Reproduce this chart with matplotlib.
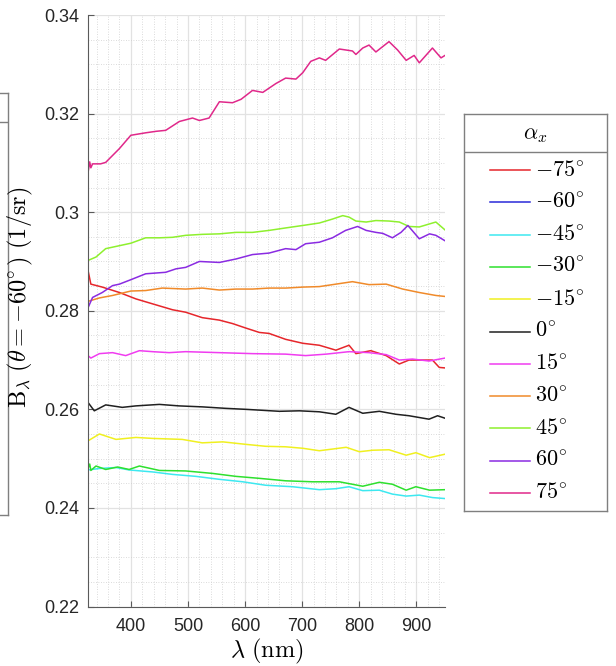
import matplotlib
matplotlib.use('Agg')
import matplotlib.pyplot as plt
from matplotlib.ticker import MultipleLocator

plt.rcParams['font.family'] = ['Liberation Sans', 'DejaVu Sans']
plt.rcParams['mathtext.fontset'] = 'cm'

# series (wavelength in nm, radiance factor in 1/sr)
lam_m75 = [325, 330, 350, 380, 409, 438, 473, 496, 525, 555, 578, 601, 625, 642, 671, 701, 730, 759, 782, 794, 820, 847, 870, 887, 905, 928, 940, 950]
b_m75 = [0.2882, 0.2854, 0.2848, 0.2837, 0.2824, 0.2814, 0.2802, 0.2797, 0.2786, 0.2781, 0.2774, 0.2765, 0.2756, 0.2754, 0.2742, 0.2734, 0.2730, 0.2720, 0.2730, 0.2713, 0.2719, 0.2709, 0.2692, 0.2700, 0.2700, 0.2700, 0.2685, 0.2684]

lam_m60 = []
b_m60 = []

lam_m45 = [325, 345, 374, 397, 438, 473, 514, 555, 596, 636, 683, 730, 759, 782, 806, 835, 858, 882, 905, 928, 950]
b_m45 = [0.2477, 0.2480, 0.2482, 0.2477, 0.2473, 0.2468, 0.2464, 0.2458, 0.2453, 0.2446, 0.2443, 0.2437, 0.2439, 0.2443, 0.2435, 0.2436, 0.2428, 0.2424, 0.2426, 0.2421, 0.2419]

lam_m30 = [325, 328, 330, 339, 356, 377, 397, 415, 450, 496, 543, 584, 625, 671, 718, 765, 806, 835, 858, 882, 899, 923, 950]
b_m30 = [0.2480, 0.2489, 0.2476, 0.2485, 0.2478, 0.2483, 0.2478, 0.2485, 0.2476, 0.2475, 0.2470, 0.2464, 0.2460, 0.2455, 0.2453, 0.2453, 0.2444, 0.2452, 0.2448, 0.2436, 0.2443, 0.2436, 0.2437]

lam_m15 = [325, 345, 374, 409, 438, 490, 525, 561, 601, 636, 671, 701, 730, 777, 800, 823, 852, 882, 899, 923, 950]
b_m15 = [0.2536, 0.2550, 0.2539, 0.2543, 0.2541, 0.2539, 0.2532, 0.2534, 0.2529, 0.2525, 0.2524, 0.2521, 0.2516, 0.2523, 0.2514, 0.2517, 0.2518, 0.2507, 0.2512, 0.2502, 0.2509]

lam_0 = [325, 336, 356, 385, 409, 450, 484, 525, 566, 601, 631, 660, 695, 730, 759, 782, 806, 835, 864, 887, 922, 937, 950]
b_0 = [0.2614, 0.2597, 0.2609, 0.2604, 0.2607, 0.2610, 0.2607, 0.2605, 0.2602, 0.2600, 0.2598, 0.2596, 0.2597, 0.2595, 0.2590, 0.2604, 0.2592, 0.2596, 0.2590, 0.2587, 0.2580, 0.2587, 0.2582]

lam_p15 = [325, 330, 345, 368, 391, 415, 438, 467, 496, 555, 613, 671, 706, 742, 782, 817, 847, 870, 893, 922, 950]
b_p15 = [0.2709, 0.2704, 0.2713, 0.2715, 0.2709, 0.2719, 0.2717, 0.2715, 0.2717, 0.2715, 0.2713, 0.2712, 0.2709, 0.2712, 0.2717, 0.2715, 0.2711, 0.2700, 0.2702, 0.2698, 0.2704]

lam_p30 = [325, 345, 368, 400, 426, 455, 496, 525, 555, 584, 613, 642, 671, 701, 730, 759, 788, 817, 847, 876, 905, 934, 950]
b_p30 = [0.2819, 0.2826, 0.2831, 0.2840, 0.2841, 0.2846, 0.2844, 0.2846, 0.2842, 0.2844, 0.2844, 0.2846, 0.2846, 0.2848, 0.2849, 0.2854, 0.2859, 0.2853, 0.2854, 0.2844, 0.2837, 0.2831, 0.2829]

lam_p45 = [325, 339, 356, 380, 400, 426, 450, 473, 496, 525, 555, 584, 613, 642, 671, 701, 730, 753, 771, 782, 794, 812, 829, 852, 870, 887, 905, 934, 950]
b_p45 = [0.2902, 0.2909, 0.2926, 0.2932, 0.2937, 0.2948, 0.2948, 0.2949, 0.2953, 0.2955, 0.2956, 0.2959, 0.2959, 0.2963, 0.2968, 0.2973, 0.2978, 0.2986, 0.2993, 0.2990, 0.2982, 0.2980, 0.2983, 0.2982, 0.2980, 0.2971, 0.2970, 0.2980, 0.2964]

lam_p60 = [325, 333, 350, 368, 380, 400, 426, 461, 479, 496, 520, 555, 584, 613, 642, 671, 689, 706, 730, 753, 776, 797, 812, 829, 841, 858, 873, 885, 905, 923, 934, 950]
b_p60 = [0.2806, 0.2827, 0.2837, 0.2851, 0.2854, 0.2863, 0.2875, 0.2878, 0.2885, 0.2888, 0.2900, 0.2898, 0.2905, 0.2914, 0.2917, 0.2926, 0.2924, 0.2936, 0.2939, 0.2948, 0.2963, 0.2971, 0.2963, 0.2959, 0.2957, 0.2948, 0.2959, 0.2973, 0.2946, 0.2956, 0.2953, 0.2942]

lam_p75 = [325, 328, 330, 333, 347, 356, 380, 400, 426, 444, 461, 485, 508, 520, 537, 555, 578, 593, 613, 631, 654, 671, 689, 701, 715, 730, 741, 765, 788, 794, 806, 817, 829, 852, 867, 882, 896, 905, 928, 943, 950]
b_p75 = [0.3080, 0.3102, 0.3090, 0.3098, 0.3098, 0.3101, 0.3129, 0.3156, 0.3161, 0.3164, 0.3166, 0.3184, 0.3191, 0.3186, 0.3191, 0.3224, 0.3222, 0.3229, 0.3247, 0.3243, 0.3261, 0.3272, 0.3270, 0.3283, 0.3306, 0.3313, 0.3308, 0.3331, 0.3327, 0.3320, 0.3333, 0.3339, 0.3325, 0.3346, 0.3329, 0.3308, 0.3318, 0.3303, 0.3333, 0.3313, 0.3318]

labels = [r'$-75^{\!\circ}$', r'$-60^{\!\circ}$', r'$-45^{\!\circ}$', r'$-30^{\!\circ}$', r'$-15^{\!\circ}$', r'$0^{\!\circ}$',
          r'$15^{\!\circ}$', r'$30^{\!\circ}$', r'$45^{\!\circ}$', r'$60^{\!\circ}$', r'$75^{\!\circ}$']
colors = ['#e6262b', '#2a2ad8', '#3de8f0', '#2ee02e', '#f0f020', '#202020',
          '#f03cf0', '#f08a2a', '#8ef02e', '#8a2be2', '#e0288a']

series = [(lam_m75, b_m75), (lam_m60, b_m60), (lam_m45, b_m45), (lam_m30, b_m30),
          (lam_m15, b_m15), (lam_0, b_0), (lam_p15, b_p15), (lam_p30, b_p30),
          (lam_p45, b_p45), (lam_p60, b_p60), (lam_p75, b_p75)]

W, H = 616, 666
fig = plt.figure(figsize=(W / 100, H / 100), dpi=100)

# clipped edge of a neighbouring legend at the far left
bax = fig.add_axes([-0.1, 1 - 515 / H, 0.1 + 8.5 / W, 422 / H])
bax.set_xticks([])
bax.set_yticks([])
bax.patch.set_alpha(0)
for s in bax.spines.values():
    s.set_color('#7f7f7f')
    s.set_linewidth(1.0)
bax.axhline((515 - 122) / 422, color='#7f7f7f', lw=1.0)

ax = fig.add_axes([88 / W, 1 - 606.5 / H, 357 / W, 591.5 / H])

for (lam, b), c in zip(series, colors):
    ax.plot(lam, b, color=c, lw=1.1)

ax.set_xlim(325, 950)
ax.set_ylim(0.22, 0.34)
ax.xaxis.set_major_locator(MultipleLocator(100))
ax.xaxis.set_minor_locator(MultipleLocator(20))
ax.yaxis.set_major_locator(MultipleLocator(0.02))
ax.yaxis.set_minor_locator(MultipleLocator(0.005))
ax.set_yticks([0.22, 0.24, 0.26, 0.28, 0.3, 0.32, 0.34])
ax.set_yticklabels(['0.22', '0.24', '0.26', '0.28', '0.3', '0.32', '0.34'])

ax.grid(which='major', color='#e2e2e2', lw=0.9)
ax.grid(which='minor', color='#cfcfcf', lw=0.6, linestyle=(0, (1, 2)))
ax.set_axisbelow(True)
for s in ['top', 'right']:
    ax.spines[s].set_visible(False)
for s in ['left', 'bottom']:
    ax.spines[s].set_color('#5a5a5a')
    ax.spines[s].set_linewidth(0.8)
ax.tick_params(which='major', direction='in', length=4, width=0.8, color='#5a5a5a',
               labelsize=13, labelcolor='#262626')
ax.tick_params(axis='x', which='major', pad=8)
ax.tick_params(axis='y', which='major', pad=6)
ax.tick_params(which='minor', length=0)

ax.set_xlabel(r'$\lambda\ (\mathrm{nm})$', fontsize=17.5)
ax.set_ylabel(r'$\mathrm{B}_\lambda\ (\theta = -60^{\!\circ})\ (1/\mathrm{sr})$', fontsize=17.5)
ax.xaxis.set_label_coords(0.5, -0.052)
ax.xaxis.label.set_va('top')
ax.yaxis.set_label_coords(-0.148, 0.522)

# legend box drawn by hand so the title separator matches
lax = fig.add_axes([464 / W, 1 - 511 / H, 143 / W, 397 / H])
lax.set_xlim(0, 143)
lax.set_ylim(397, 0)
lax.set_xticks([])
lax.set_yticks([])
for s in lax.spines.values():
    s.set_color('#7f7f7f')
    s.set_linewidth(1.0)
lax.axhline(37.7, color='#7f7f7f', lw=1.0)
lax.text(71.5, 21, r'$\alpha_x$', fontsize=16, ha='center', va='center')
for i, (lab, c) in enumerate(zip(labels, colors)):
    yy = 56 + 32.3 * i
    lax.plot([26, 66], [yy, yy], color=c, lw=1.1)
    lax.text(71, yy, lab, fontsize=16, ha='left', va='center')

fig.savefig('out.png', dpi=100)
